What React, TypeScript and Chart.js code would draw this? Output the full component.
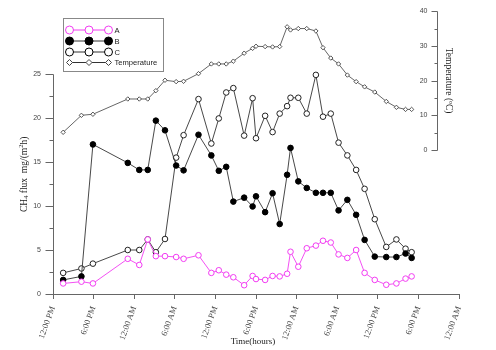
import React, { useEffect, useRef } from 'react';
import { Chart, registerables } from 'chart.js';

Chart.register(...registerables);

// Time in hours since 12:00 PM of day 1
const hours = [1.5, 4.2, 5.9, 11.05, 12.75, 14.0, 15.2, 16.55, 18.2, 19.3, 21.5, 23.4, 24.5, 25.6, 26.65, 28.25, 29.5, 30.0, 31.35, 32.45, 33.5, 34.6, 35.1, 36.25, 37.5, 38.85, 39.9, 41.05, 42.2, 43.5, 44.8, 46.05, 47.55, 49.25, 50.75, 52.1, 53.0];
const seriesA = [1.2, 1.4, 1.2, 4.0, 3.3, 6.2, 4.3, 4.3, 4.2, 4.0, 4.4, 2.4, 2.7, 2.2, 1.9, 1.0, 2.05, 1.7, 1.6, 2.05, 2.0, 2.3, 4.8, 3.1, 5.2, 5.5, 6.05, 5.85, 4.5, 4.1, 5.0, 2.4, 1.6, 1.05, 1.2, 1.75, 2.0];
const seriesB = [1.6, 2.0, 17.0, 14.9, 14.1, 14.1, 19.7, 18.6, 14.6, 14.05, 18.1, 15.75, 14.0, 14.45, 10.5, 10.95, 9.95, 11.1, 9.3, 11.45, 7.95, 13.55, 16.6, 12.8, 12.05, 11.5, 11.5, 11.5, 9.5, 10.7, 9.0, 6.15, 4.25, 4.2, 4.2, 4.6, 4.1];
const seriesC = [2.4, 2.9, 3.45, 5.0, 5.0, 6.2, 4.75, 6.25, 15.5, 18.05, 22.15, 17.1, 19.95, 22.9, 23.4, 18.0, 22.25, 17.7, 20.25, 18.4, 20.5, 21.35, 22.3, 22.3, 20.5, 24.9, 20.15, 20.5, 17.2, 15.75, 14.1, 11.95, 8.5, 5.35, 6.2, 5.15, 4.75];
const temperature = [5.1, 10.0, 10.3, 14.7, 14.7, 14.7, 17.1, 20.1, 19.7, 19.8, 22.0, 24.8, 24.8, 24.8, 25.6, 27.9, 29.3, 29.9, 29.8, 29.7, 29.8, 35.5, 34.6, 35.0, 35.0, 34.3, 29.5, 26.5, 24.8, 21.6, 19.7, 18.2, 16.7, 14.0, 12.3, 11.7, 11.7];

const xTickHours = [0, 6, 12, 18, 24, 30, 36, 42, 48, 54, 60];
const xTickLabels = ['12:00 PM', '6:00 PM', '12:00 AM', '6:00 AM', '12:00 PM', '6:00 PM', '12:00 AM', '6:00 AM', '12:00 PM', '6:00 PM', '12:00 AM'];
const fluxTicks = [0, 5, 10, 15, 20, 25];
const fluxMinorTicks = [2.5, 7.5, 12.5, 17.5, 22.5];
const tempTicks = [0, 10, 20, 30, 40];
const tempMinorTicks = [5, 15, 25, 35];
const legendLabels = ['A', 'B', 'C', 'Temperature'];

const TEMP_AXIS_AT_HOUR = 56.75;
const MAGENTA = '#f23cf2';
const AXIS = '#666';

const decorPlugin = {
  id: 'decor',
  afterDraw(chart: any) {
    const ctx = chart.ctx;
    const y = chart.scales.y;
    const y1 = chart.scales.y1;
    const x = chart.scales.x;
    ctx.save();
    ctx.strokeStyle = AXIS;
    ctx.lineWidth = 1;
    // left axis
    const lx = Math.round(x.left) + 0.5;
    ctx.beginPath();
    ctx.moveTo(lx, y.getPixelForValue(0) + 0.5);
    ctx.lineTo(lx, Math.round(y.getPixelForValue(25)) + 0.5);
    fluxTicks.forEach((v) => {
      const py = Math.round(y.getPixelForValue(v)) + 0.5;
      ctx.moveTo(lx, py);
      ctx.lineTo(lx - 8, py);
    });
    fluxMinorTicks.forEach((v) => {
      const py = Math.round(y.getPixelForValue(v)) + 0.5;
      ctx.moveTo(lx, py);
      ctx.lineTo(lx - 4, py);
    });
    ctx.stroke();
    // right (temperature) axis
    const rx = Math.round(x.getPixelForValue(TEMP_AXIS_AT_HOUR)) + 0.5;
    ctx.beginPath();
    ctx.moveTo(rx, Math.round(y1.getPixelForValue(0)) + 0.5);
    ctx.lineTo(rx, Math.round(y1.getPixelForValue(40)) + 0.5);
    tempTicks.forEach((v) => {
      const py = Math.round(y1.getPixelForValue(v)) + 0.5;
      ctx.moveTo(rx, py);
      ctx.lineTo(rx - 6, py);
    });
    tempMinorTicks.forEach((v) => {
      const py = Math.round(y1.getPixelForValue(v)) + 0.5;
      ctx.moveTo(rx, py);
      ctx.lineTo(rx - 3, py);
    });
    ctx.stroke();
    // right axis tick labels
    ctx.fillStyle = '#444';
    ctx.font = '7px "Liberation Sans"';
    ctx.textAlign = 'right';
    ctx.textBaseline = 'middle';
    tempTicks.forEach((v) => {
      ctx.fillText(String(v), rx - 10, y1.getPixelForValue(v));
    });

    // titles
    ctx.fillStyle = '#222';
    ctx.textBaseline = 'middle';
    // x title
    ctx.font = '9px "Liberation Serif"';
    ctx.textAlign = 'center';
    ctx.fillText('Time(hours)', (x.left + x.right) / 2 - 3, 342);

    // right title
    ctx.save();
    ctx.translate(448, y1.getPixelForValue(20));
    ctx.rotate(Math.PI / 2);
    ctx.font = '9.5px "Liberation Serif"';
    ctx.textAlign = 'center';
    ctx.fillText('Temperature (\u00baC)', 0, 0);
    ctx.restore();

    // left title with sub/superscript
    const parts = [
      { t: 'CH', k: 'n' },
      { t: '4', k: 'sub' },
      { t: ' flux  mg/(m', k: 'n' },
      { t: '2', k: 'sup' },
      { t: 'h)', k: 'n' },
    ];
    const big = '9.5px "Liberation Serif"';
    const small = '6.5px "Liberation Serif"';
    let total = 0;
    parts.forEach((p) => {
      ctx.font = p.k === 'n' ? big : small;
      total += ctx.measureText(p.t).width;
    });
    ctx.save();
    ctx.translate(24, y.getPixelForValue(13.6));
    ctx.rotate(-Math.PI / 2);
    ctx.textAlign = 'left';
    let cx = -total / 2;
    parts.forEach((p) => {
      ctx.font = p.k === 'n' ? big : small;
      const dy = p.k === 'sub' ? 2.5 : p.k === 'sup' ? -3 : 0;
      ctx.fillText(p.t, cx, dy);
      cx += ctx.measureText(p.t).width;
    });
    ctx.restore();

    // legend
    const bx = 63.5, by = 18.5, bw = 100, bh = 53;
    ctx.fillStyle = '#fff';
    ctx.fillRect(bx, by, bw, bh);
    ctx.strokeStyle = '#888';
    ctx.strokeRect(bx, by, bw, bh);
    const rows = [30, 41, 52, 62.5];
    const mx = [69.5, 89, 108.5];
    legendLabels.forEach((lab, i) => {
      const ry = rows[i];
      const lineCol = i === 0 ? MAGENTA : '#333';
      ctx.strokeStyle = lineCol;
      ctx.lineWidth = 1;
      ctx.beginPath();
      ctx.moveTo(mx[0], ry);
      ctx.lineTo(mx[2], ry);
      ctx.stroke();
      mx.forEach((px) => {
        ctx.beginPath();
        if (i === 3) {
          ctx.moveTo(px, ry - 3);
          ctx.lineTo(px + 3, ry);
          ctx.lineTo(px, ry + 3);
          ctx.lineTo(px - 3, ry);
          ctx.closePath();
          ctx.fillStyle = '#fff';
          ctx.fill();
          ctx.strokeStyle = '#444';
          ctx.stroke();
        } else {
          ctx.arc(px, ry, 4, 0, Math.PI * 2);
          ctx.fillStyle = i === 1 ? '#000' : '#fff';
          ctx.fill();
          ctx.strokeStyle = i === 0 ? MAGENTA : '#000';
          ctx.stroke();
        }
      });
      ctx.fillStyle = '#222';
      ctx.font = '7.6px "Liberation Sans"';
      ctx.textAlign = 'left';
      ctx.textBaseline = 'middle';
      ctx.fillText(lab, 114.5, ry + 0.5);
    });
    ctx.restore();
  },
};

const toPoints = (vals: number[]) => hours.map((h, i) => ({ x: h, y: vals[i] }));

const zeroPad = (s: any) => {
  s.paddingTop = 0;
  s.paddingBottom = 0;
  s.paddingLeft = 0;
  s.paddingRight = 0;
};

export default function App() {
  const ref = useRef<HTMLCanvasElement | null>(null);
  useEffect(() => {
    document.body.style.margin = '0';
    const canvas = ref.current;
    if (!canvas) return;
    const tickFont = { family: 'Liberation Sans', size: 7 };
    const chart = new Chart(canvas, {
      type: 'line',
      data: {
        datasets: [
          {
            label: 'Temperature',
            data: toPoints(temperature),
            yAxisID: 'y1',
            borderColor: '#555',
            borderWidth: 0.9,
            pointStyle: 'rectRot',
            pointRadius: 2.2,
            pointBorderColor: '#444',
            pointBackgroundColor: '#fff',
            pointBorderWidth: 0.9,
            tension: 0,
          },
          {
            label: 'A',
            data: toPoints(seriesA),
            yAxisID: 'y',
            borderColor: MAGENTA,
            borderWidth: 0.9,
            pointStyle: 'circle',
            pointRadius: 2.8,
            pointBorderColor: MAGENTA,
            pointBackgroundColor: '#fff',
            pointBorderWidth: 1,
            tension: 0,
          },
          {
            label: 'B',
            data: toPoints(seriesB),
            yAxisID: 'y',
            borderColor: '#333',
            borderWidth: 0.9,
            pointStyle: 'circle',
            pointRadius: 2.8,
            pointBorderColor: '#000',
            pointBackgroundColor: '#000',
            pointBorderWidth: 1,
            tension: 0,
          },
          {
            label: 'C',
            data: toPoints(seriesC),
            yAxisID: 'y',
            borderColor: '#333',
            borderWidth: 0.9,
            pointStyle: 'circle',
            pointRadius: 2.8,
            pointBorderColor: '#222',
            pointBackgroundColor: '#fff',
            pointBorderWidth: 1,
            tension: 0,
          },
        ],
      },
      options: {
        responsive: false,
        animation: false,
        devicePixelRatio: 1,
        layout: { padding: { top: 11, right: 37, left: 0, bottom: 0 } },
        plugins: { legend: { display: false }, tooltip: { enabled: false } },
        scales: {
          x: {
            type: 'linear',
            position: 'bottom',
            min: 0,
            max: 60,
            afterFit: (s: any) => { s.height = 56; zeroPad(s); },
            afterBuildTicks: (s: any) => { s.ticks = xTickHours.map((v) => ({ value: v })); },
            ticks: {
              autoSkip: false,
              minRotation: 70,
              maxRotation: 70,
              padding: 6,
              color: '#444',
              font: { family: 'Liberation Serif', size: 8.5 },
              callback: (_v: any, i: number) => xTickLabels[i],
            },
            grid: { display: true, drawOnChartArea: false, drawTicks: true, tickLength: 5, color: AXIS },
            border: { display: true, color: AXIS, width: 1 },
          },
          y: {
            type: 'linear',
            position: 'left',
            min: 0,
            max: 32.16,
            afterFit: (s: any) => { s.width = 53; zeroPad(s); },
            afterBuildTicks: (s: any) => { s.ticks = fluxTicks.map((v) => ({ value: v })); },
            ticks: { padding: 12, color: '#444', font: tickFont },
            grid: { display: false, drawTicks: false, tickLength: 0 },
            border: { display: false },
          },
          y1: {
            type: 'linear',
            axis: 'y',
            position: { x: TEMP_AXIS_AT_HOUR },
            min: -41.5,
            max: 40.06,
            afterFit: (s: any) => { zeroPad(s); },
            afterBuildTicks: (s: any) => { s.ticks = tempTicks.map((v) => ({ value: v })); },
            ticks: { display: false },
            grid: { display: false, drawTicks: false, tickLength: 0 },
            border: { display: false },
          },
        } as any,
      },
      plugins: [decorPlugin],
    } as any);
    return () => chart.destroy();
  }, []);
  return (
    <div style={{ width: 496, height: 350, background: '#fff' }}>
      <canvas ref={ref} width={496} height={350} style={{ display: 'block', width: 496, height: 350 }} />
    </div>
  );
}
